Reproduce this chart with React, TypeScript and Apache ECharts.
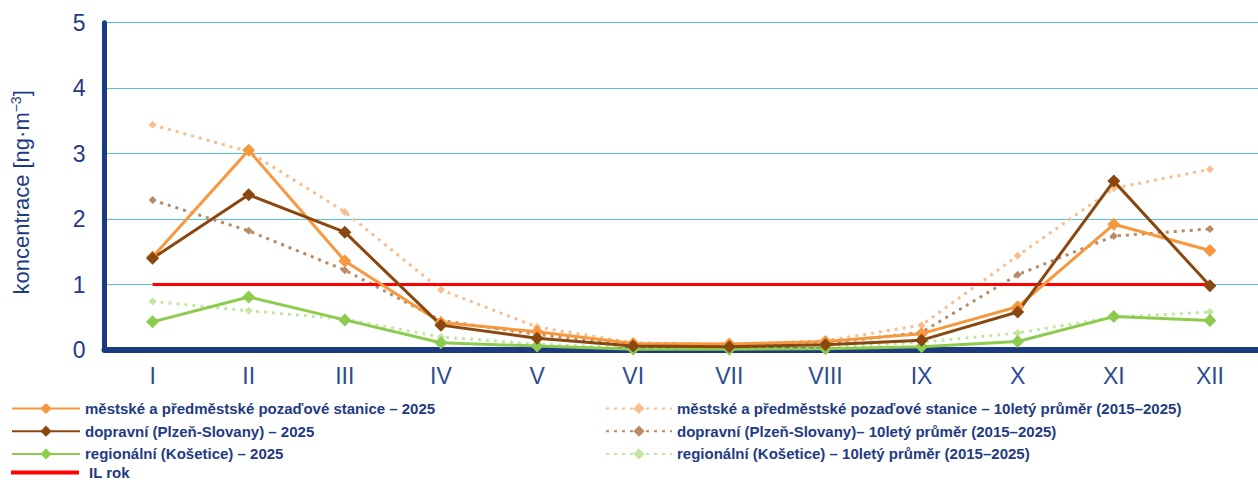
import React, { useEffect, useRef } from "react";
import * as echarts from "echarts";

const months = ["I", "II", "III", "IV", "V", "VI", "VII", "VIII", "IX", "X", "XI", "XII"];
const yTicks = [0, 1, 2, 3, 4, 5];

const mestske2025 = [1.42, 3.05, 1.36, 0.42, 0.28, 0.1, 0.09, 0.13, 0.25, 0.66, 1.92, 1.52];
const dopravni2025 = [1.4, 2.37, 1.8, 0.38, 0.18, 0.06, 0.05, 0.08, 0.15, 0.58, 2.58, 0.98];
const regionalni2025 = [0.43, 0.81, 0.46, 0.11, 0.06, 0.01, 0.01, 0.02, 0.05, 0.13, 0.51, 0.45];
const mestskeAvg = [3.44, 3.03, 2.11, 0.92, 0.35, 0.11, 0.09, 0.14, 0.38, 1.44, 2.47, 2.76];
const dopravniAvg = [2.29, 1.82, 1.22, 0.45, 0.24, 0.07, 0.06, 0.1, 0.27, 1.15, 1.74, 1.85];
const regionalniAvg = [0.74, 0.6, 0.47, 0.2, 0.09, 0.03, 0.02, 0.04, 0.12, 0.26, 0.5, 0.58];
const ilRok = [1, 1, 1, 1, 1, 1, 1, 1, 1, 1, 1, 1];

const names = {
  m25: "městské a předměstské pozaďové stanice – 2025",
  d25: "dopravní (Plzeň-Slovany) – 2025",
  r25: "regionální (Košetice) – 2025",
  il: "IL rok",
  mAvg: "městské a předměstské pozaďové stanice – 10letý průměr (2015–2025)",
  dAvg: "dopravní (Plzeň-Slovany)– 10letý průměr (2015–2025)",
  rAvg: "regionální (Košetice) – 10letý průměr (2015–2025)",
};

const NAVY = "#1B3A80";
const TEXT = "#1F3B82";
const FONT = "Liberation Sans, Arial, sans-serif";

export default function App() {
  const ref = useRef<HTMLDivElement>(null);
  useEffect(() => {
    if (!ref.current) return;
    const chart = echarts.init(ref.current, null, { renderer: "svg" });
    const solid = (name: string, data: number[], color: string, size: number) => ({
      name,
      type: "line",
      data,
      symbol: "diamond",
      symbolSize: size,
      itemStyle: { color },
      lineStyle: { color, width: 3 },
      z: 5,
    });
    const dotted = (name: string, data: number[], color: string) => ({
      name,
      type: "line",
      data,
      symbol: "diamond",
      symbolSize: 8,
      itemStyle: { color },
      lineStyle: { color, width: 3, type: [3, 5] },
      z: 3,
    });
    const legendText = {
      color: TEXT,
      fontFamily: FONT,
      fontWeight: "bold",
      fontSize: 15,
    };
    chart.setOption({
      animation: false,
      grid: { left: 104.5, top: 22.7, width: 1162, height: 327.3, containLabel: false },
      xAxis: {
        type: "category",
        data: months,
        boundaryGap: true,
        axisLine: { lineStyle: { color: NAVY, width: 6 } },
        axisTick: { show: false },
        axisLabel: {
          color: "#2D4C90",
          fontSize: 23,
          fontFamily: FONT,
          margin: 14,
        },
        splitLine: { show: false },
      },
      yAxis: {
        type: "value",
        min: yTicks[0],
        max: yTicks[yTicks.length - 1],
        interval: 1,
        axisLine: { show: true, lineStyle: { color: NAVY, width: 5 } },
        axisTick: { show: false },
        axisLabel: {
          color: TEXT,
          fontSize: 23,
          fontFamily: FONT,
          margin: 19,
        },
        splitLine: { lineStyle: { color: "#55C3D6", width: 1 } },
        name: "koncentrace [ng·m{sup|−3}]",
        nameLocation: "middle",
        nameRotate: 90,
        nameGap: 71,
        nameTextStyle: {
          color: TEXT,
          fontSize: 22,
          fontFamily: FONT,
          padding: [0, 12, 0, 0],
          rich: {
            sup: {
              color: TEXT,
              fontSize: 14,
              fontFamily: FONT,
              padding: [0, 0, 11, 0],
            },
          },
        },
      },
      legend: [
        {
          orient: "vertical",
          left: 6,
          top: 396,
          itemWidth: 68,
          itemHeight: 14,
          itemGap: 7.7,
          textStyle: legendText,
          data: [names.m25, names.d25, names.r25],
        },
        {
          orient: "vertical",
          left: 6,
          top: 460,
          itemWidth: 68,
          itemHeight: 14,
          textStyle: { ...legendText, padding: [0, 0, 0, 5] },
          data: [{ name: names.il, icon: "path://M0,6L68,6L68,10L0,10Z" }],
        },
        {
          orient: "vertical",
          left: 600,
          top: 396,
          itemWidth: 66,
          itemHeight: 14,
          itemGap: 7.7,
          textStyle: legendText,
          data: [names.mAvg, names.dAvg, names.rAvg],
        },
      ],
      series: [
        dotted(names.mAvg, mestskeAvg, "#F9BE90"),
        dotted(names.dAvg, dopravniAvg, "#B98A63"),
        dotted(names.rAvg, regionalniAvg, "#C3E6A2"),
        {
          name: names.il,
          type: "line",
          data: ilRok,
          symbol: "none",
          itemStyle: { color: "#FF0000" },
          lineStyle: { color: "#FF0000", width: 3 },
          z: 4,
        },
        solid(names.r25, regionalni2025, "#8DCB4E", 13),
        solid(names.m25, mestske2025, "#F7983F", 13),
        solid(names.d25, dopravni2025, "#8A4710", 13),
      ],
    });
    return () => chart.dispose();
  }, []);
  return (
    <div
      ref={ref}
      style={{ position: "fixed", left: 0, top: 0, width: 1258, height: 482, background: "#fff" }}
    />
  );
}
